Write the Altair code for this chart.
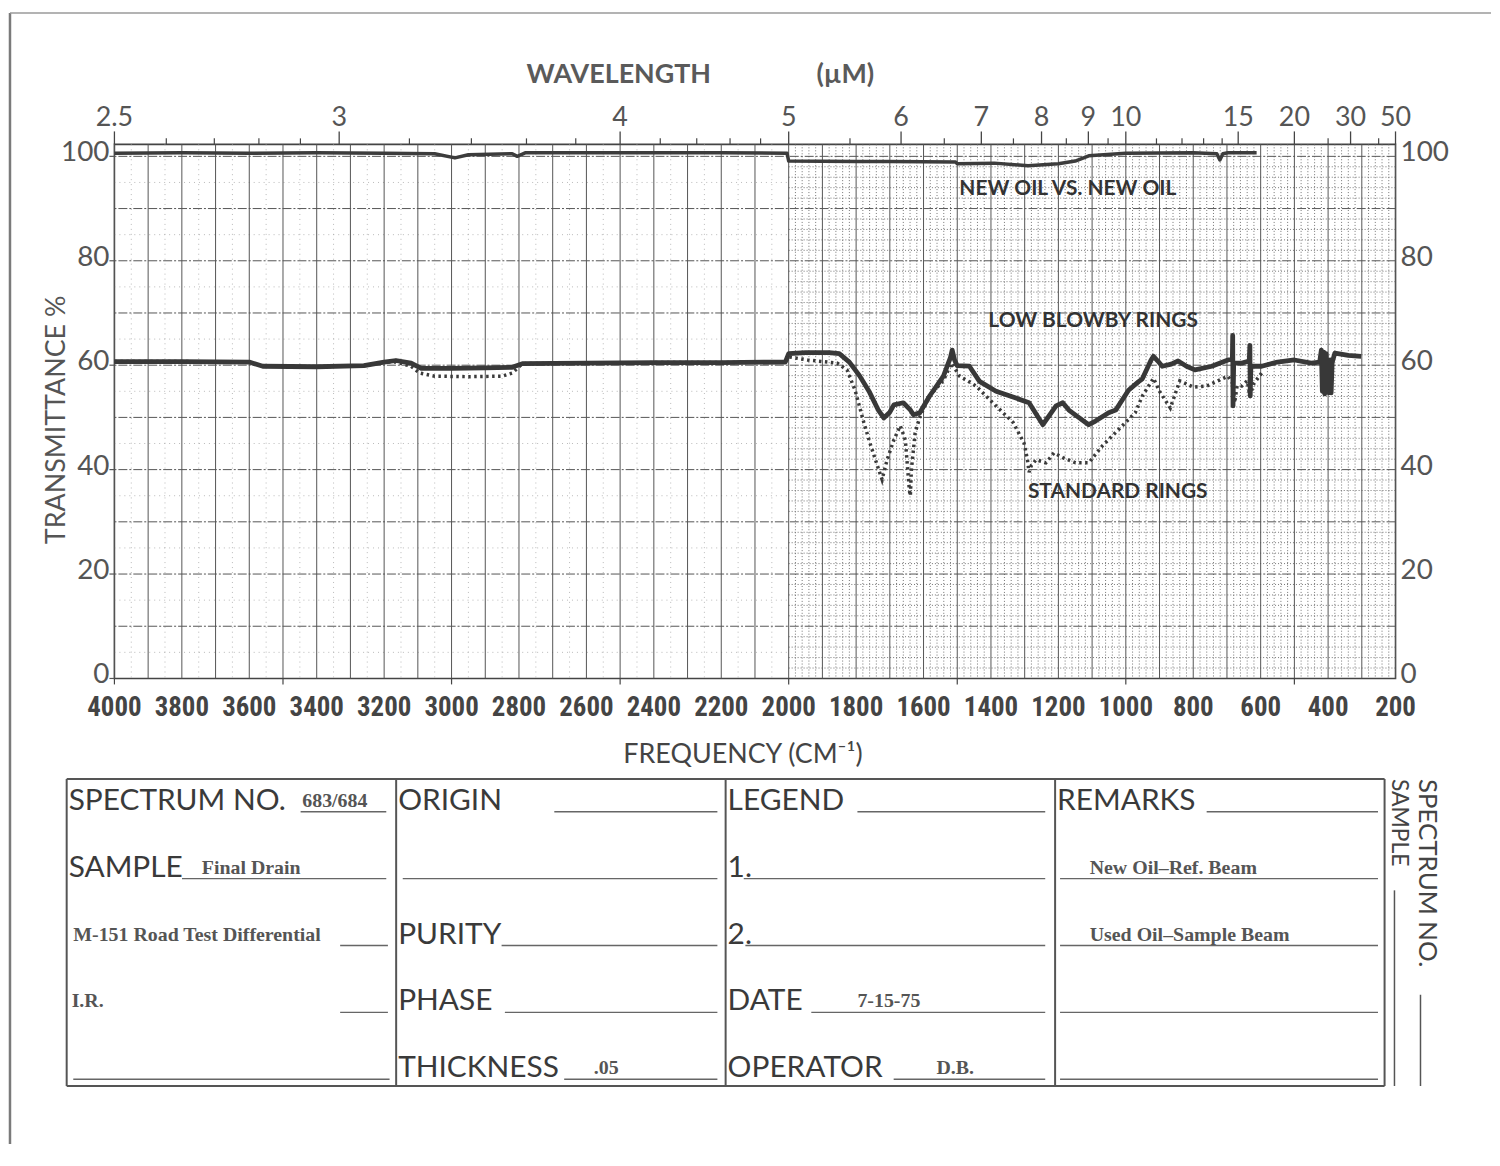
import altair as alt
import pandas as pd

# ---------------- spectrum data (frequency cm-1, transmittance %) ----------------
low_freq = [4000, 3800, 3600, 3560, 3400, 3260, 3200, 3165, 3120, 3090, 3000, 2900, 2820, 2790,
            2600, 2400, 2200, 2010, 2000, 1950, 1880, 1850, 1820, 1790, 1760, 1735, 1718, 1700,
            1688, 1660, 1640, 1630, 1611, 1582, 1541, 1520, 1515, 1508, 1500, 1464, 1434, 1385,
            1326, 1287, 1246, 1207, 1187, 1169, 1140, 1110, 1090, 1051, 1030, 992, 963, 951,
            925, 918, 905, 892, 865, 845, 820, 795, 745, 697, 684, 683, 682, 680, 656, 634, 632,
            631, 629, 597, 550, 500, 450, 425, 420, 417, 413, 410, 406, 402, 398, 394, 391, 388,
            380, 340, 302]
low_T = [60.7, 60.7, 60.6, 59.8, 59.7, 59.9, 60.6, 60.9, 60.4, 59.4, 59.4, 59.5, 59.6, 60.3,
         60.4, 60.5, 60.5, 60.6, 62.2, 62.4, 62.4, 62.2, 60.6, 58.0, 54.8, 51.5, 49.9, 51.0,
         52.4, 52.8, 51.5, 50.5, 50.9, 54.1, 57.9, 61.5, 62.9, 61.0, 59.9, 59.8, 56.9, 55.0,
         53.7, 52.8, 48.6, 52.2, 52.8, 51.4, 50.0, 48.6, 49.3, 50.9, 51.4, 55.2, 56.8, 57.4,
         61.0, 61.7, 60.8, 59.8, 60.2, 60.8, 59.8, 59.1, 59.8, 61.0, 61.2, 65.7, 52.2, 60.4,
         60.4, 60.8, 63.8, 54.1, 59.8, 59.8, 60.6, 61.0, 60.4, 60.6, 62.9, 55.0, 62.5, 54.5,
         62.2, 57.1, 54.7, 61.0, 54.7, 60.5, 62.3, 61.9, 61.7]

std_freq = [4000, 3800, 3600, 3560, 3400, 3260, 3200, 3165, 3120, 3095, 3050, 2950, 2850, 2820,
            2790, 2600, 2400, 2200, 2010, 2000, 1944, 1856, 1827, 1803, 1777, 1759, 1733, 1723,
            1708, 1688, 1669, 1654, 1642, 1639, 1636, 1625, 1610, 1582, 1541, 1517, 1493, 1444,
            1385, 1334, 1302, 1292, 1287, 1280, 1266, 1237, 1213, 1187, 1149, 1110, 1069, 1001,
            972, 951, 918, 900, 868, 840, 800, 760, 697, 683, 677, 670, 656, 640, 632, 620, 597]
std_T = [60.7, 60.7, 60.6, 59.8, 59.7, 59.9, 60.6, 60.6, 59.8, 58.5, 57.9, 57.8, 57.9, 58.5,
         60.3, 60.4, 60.5, 60.5, 60.6, 61.6, 61.0, 60.4, 59.1, 55.2, 49.0, 45.1, 40.0, 38.1,
         41.9, 45.7, 48.4, 45.7, 36.0, 35.0, 40.0, 47.0, 50.3, 54.1, 57.1, 60.4, 57.9, 56.0,
         52.2, 49.0, 45.1, 42.0, 39.5, 40.8, 41.9, 41.3, 43.2, 42.3, 41.3, 41.3, 44.6, 49.0,
         50.9, 54.1, 57.5, 55.0, 51.8, 57.0, 55.8, 56.0, 57.9, 56.5, 52.8, 56.0, 56.0, 57.0,
         54.1, 56.5, 58.5]

new_freq = [4000, 3800, 3600, 3400, 3200, 3050, 2990, 2950, 2820, 2805, 2780, 2400, 2200, 2005,
            2000, 1800, 1700, 1505, 1500, 1390, 1290, 1200, 1150, 1110, 1000, 800, 730, 721, 712,
            697, 612]
new_T = [100.6, 100.7, 100.6, 100.7, 100.6, 100.5, 99.7, 100.3, 100.5, 100.0, 100.7, 100.7, 100.7,
         100.6, 99.1, 99.0, 99.0, 98.9, 98.6, 98.7, 98.2, 98.6, 99.1, 100.1, 100.6, 100.7, 100.5,
         99.3, 100.5, 100.7, 100.7]

# curve labels
note_text = ["NEW OIL VS. NEW OIL", "LOW BLOWBY RINGS", "STANDARD RINGS"]
note_freq = [1172, 1097, 1024]
note_T = [93.7, 68.4, 35.8]

# axis values / labels
freq_ticks = list(range(4000, 199, -200))
freq_marks = [4000, 3500, 3000, 2500, 2000, 1500, 1000, 500]
trans_ticks = [0, 20, 40, 60, 80, 100]
x_title = "FREQUENCY (CM⁻¹)"
y_title = "TRANSMITTANCE  %"
wl_major = [2.5, 3, 4, 5, 6, 7, 8, 9, 10, 15, 20, 30, 50]
wl_major_lab = ["2.5", "3", "4", "5", "6", "7", "8", "9", "10", "15", "20", "30", "50"]
wl_minor = [2.6, 2.7, 2.8, 2.9, 3.2, 3.4, 3.6, 3.8, 4.2, 4.4, 4.6, 4.8, 5.5, 6.5, 7.5, 8.5,
            9.5, 11, 12, 13, 14, 25, 40]
top_title = ["WAVELENGTH", "(µM)"]
top_title_freq = [2504, 1832]

# chart-paper grid
grid_v_major = list(range(4000, 199, -100))
grid_v_minor_left = list(range(3950, 2000, -100))
grid_v_minor_right = [f for f in range(1980, 200, -20) if f % 100]
grid_h_major = list(range(10, 101, 10))
grid_h_minor_left = list(range(5, 100, 10))
grid_h_minor_right = [v for v in range(2, 101, 2) if v % 10]

# ---------------- form data ----------------
form_labels = ["SPECTRUM NO.", "SAMPLE", "ORIGIN", "PURITY", "PHASE", "THICKNESS",
               "LEGEND", "1.", "2.", "DATE", "OPERATOR", "REMARKS"]
form_label_col = [0, 0, 1, 1, 1, 1, 2, 2, 2, 2, 2, 3]
form_label_row = [0, 1, 0, 2, 3, 4, 0, 1, 2, 3, 4, 0]

form_entries = ["683/684", "Final Drain", "M-151 Road Test  Differential", "I.R.", ".05",
                "7-15-75", "D.B.", "New Oil–Ref. Beam", "Used Oil–Sample Beam"]
form_entry_col = [0, 0, 0, 0, 1, 2, 2, 3, 3]
form_entry_row = [0, 1, 2, 3, 4, 3, 4, 1, 2]
form_entry_off = [0.715, 0.41, 0.02, 0.015, 0.60, 0.40, 0.64, 0.105, 0.105]

ul_col = [0, 0, 0, 0, 0, 1, 1, 1, 1, 1, 2, 2, 2, 2, 2, 3, 3, 3, 3, 3]
ul_row = [0, 1, 2, 3, 4, 0, 1, 2, 3, 4, 0, 1, 2, 3, 4, 0, 1, 2, 3, 4]
ul_start = [0.71, 0.35, 0.83, 0.83, 0.02, 0.48, 0.02, 0.32, 0.33, 0.51,
            0.40, 0.055, 0.06, 0.26, 0.51, 0.46, 0.015, 0.015, 0.015, 0.015]
ul_end = [0.97, 0.97, 0.975, 0.975, 0.98, 0.975, 0.975, 0.975, 0.975, 0.975,
          0.97, 0.97, 0.97, 0.97, 0.97, 0.98, 0.98, 0.98, 0.98, 0.98]

side_text = ["SPECTRUM NO.", "SAMPLE"]
side_col = [4.130, 4.045]
side_size = [26, 23]
side_line_col = [4.109, 4.030]
side_line_from = [2.736, 1.175]

BOX_TOP, BOX_BOTTOM = -0.49, 4.1

# ---------------- styling ----------------
SANS = "Lato, 'Open Sans', sans-serif"
NARROW = "'Liberation Sans Narrow', 'Roboto Condensed', 'Liberation Sans', sans-serif"
SERIF = "'Liberation Serif', serif"
INK = "#444444"
GREY = "#555555"
W, H = 1288, 537

X = alt.Scale(domain=[4000, 200], nice=False, zero=False)
Y = alt.Scale(domain=[0, 102.3], nice=False, zero=False)


def fx(field="f"):
    return alt.X(f"{field}:Q", scale=X, axis=None)


def ty(field="t"):
    return alt.Y(f"{field}:Q", scale=Y, axis=None)


# grid layers
g_vmaj = alt.Chart(pd.DataFrame({"f": grid_v_major})).mark_rule(
    color="#555555", strokeWidth=1).encode(x=fx())
g_vminl = alt.Chart(pd.DataFrame({"f": grid_v_minor_left})).mark_rule(
    color="#a8a8a8", strokeWidth=0.8, strokeDash=[1, 4]).encode(x=fx())
g_vminr = alt.Chart(pd.DataFrame({"f": grid_v_minor_right})).mark_rule(
    color="#666666", strokeWidth=0.9, strokeDash=[1, 2]).encode(x=fx())
g_hmaj = alt.Chart(pd.DataFrame({"t": grid_h_major})).mark_rule(
    color="#555555", strokeWidth=1, strokeDash=[9, 2, 2, 2]).encode(y=ty())
g_hminl = alt.Chart(pd.DataFrame({"t": grid_h_minor_left, "a": 4000, "b": 2000})).mark_rule(
    color="#a8a8a8", strokeWidth=0.8, strokeDash=[1, 4]).encode(y=ty(), x=fx("a"), x2="b:Q")
g_hminr = alt.Chart(pd.DataFrame({"t": grid_h_minor_right, "a": 2000, "b": 200})).mark_rule(
    color="#666666", strokeWidth=0.9, strokeDash=[1, 2]).encode(y=ty(), x=fx("a"), x2="b:Q")
bottom_marks = alt.Chart(pd.DataFrame({"f": freq_marks})).mark_rule(
    color=INK, strokeWidth=1.2).encode(x=fx(), y=alt.value(H), y2=alt.value(H + 6))

# curves
std_line = alt.Chart(pd.DataFrame({"f": std_freq, "t": std_T})).mark_line(
    color="#3a3a3a", strokeWidth=3.5, strokeDash=[2.5, 3.5]).encode(x=fx(), y=ty())
low_line = alt.Chart(pd.DataFrame({"f": low_freq, "t": low_T})).mark_line(
    color="#383838", strokeWidth=4.8, strokeJoin="round").encode(x=fx(), y=ty())
new_line = alt.Chart(pd.DataFrame({"f": new_freq, "t": new_T})).mark_line(
    color="#3c3c3c", strokeWidth=3.5, strokeJoin="round").encode(x=fx(), y=ty())

notes = alt.Chart(pd.DataFrame({"f": note_freq, "t": note_T, "s": note_text})).mark_text(
    font=SANS, fontSize=21, fontWeight="bold", color="#333333", align="center",
    baseline="middle").encode(x=fx(), y=ty(), text="s:N")

# bottom frequency scale
bottom_labels = alt.Chart(pd.DataFrame({"f": freq_ticks,
                                        "lab": [str(v) for v in freq_ticks]})).mark_text(
    font=NARROW, fontSize=27, fontWeight="bold", color=INK, align="center",
    baseline="alphabetic").encode(x=fx(), y=alt.value(H + 38), text="lab:N")
x_title_mark = alt.Chart(pd.DataFrame({"s": [x_title]})).mark_text(
    font=SANS, fontSize=27, color=INK, align="center", baseline="alphabetic").encode(
    x=alt.value(632), y=alt.value(H + 85), text="s:N")

# left / right transmittance scale
left_labels = alt.Chart(pd.DataFrame({"f": 4000, "t": trans_ticks,
                                      "lab": [str(v) for v in trans_ticks]})).mark_text(
    font=SANS, fontSize=28, color=GREY, align="right", baseline="middle", dx=-5, dy=-3).encode(
    x=fx(), y=ty(), text="lab:N")
left_ticks = alt.Chart(pd.DataFrame({"t": trans_ticks})).mark_rule(
    color=GREY, strokeWidth=1.2).encode(x=alt.value(-5), x2=alt.value(0), y=ty())
right_labels = alt.Chart(pd.DataFrame({"f": 200, "t": trans_ticks,
                                       "lab": [str(v) for v in trans_ticks]})).mark_text(
    font=SANS, fontSize=28, color=GREY, align="left", baseline="middle", dx=5, dy=-3).encode(
    x=fx(), y=ty(), text="lab:N")
y_title_mark = alt.Chart(pd.DataFrame({"s": [y_title]})).mark_text(
    font=SANS, fontSize=27, color=GREY, align="center", baseline="middle", angle=270).encode(
    x=alt.value(-58), y=alt.value(277), text="s:N")

# top wavelength scale
top_major = alt.Chart(pd.DataFrame({"w": wl_major, "lab": wl_major_lab})).transform_calculate(
    f="10000 / datum.w")
top_tick_major = top_major.mark_rule(color=INK, strokeWidth=1.3).encode(
    x=fx(), y=alt.value(0), y2=alt.value(-13))
top_labels = top_major.mark_text(font=SANS, fontSize=27, color=GREY, align="center",
                                 baseline="alphabetic").encode(x=fx(), y=alt.value(-18), text="lab:N")
top_tick_minor = alt.Chart(pd.DataFrame({"w": wl_minor})).transform_calculate(
    f="10000 / datum.w").mark_rule(color=INK, strokeWidth=1.2).encode(
    x=fx(), y=alt.value(0), y2=alt.value(-6))
top_titles = alt.Chart(pd.DataFrame({"f": top_title_freq, "s": top_title})).mark_text(
    font=SANS, fontSize=27, fontWeight="bold", color="#5a5a5a", align="center",
    baseline="alphabetic").encode(x=fx(), y=alt.value(-62), text="s:N")

spectrum = alt.layer(
    g_vminl, g_vminr, g_hminl, g_hminr, g_vmaj, g_hmaj, bottom_marks,
    std_line, low_line, new_line, notes,
    bottom_labels, x_title_mark, left_labels, left_ticks, right_labels, y_title_mark,
    top_tick_major, top_tick_minor, top_labels, top_titles,
)

# ---------------- form (its own column / row scales) ----------------
COL_PX0, COL_W = -48.0, 331.25   # column 0 edge and column width, px from plot origin
ROW_PX0, ROW_H = 671.0, 67.25    # row-0 rule and row pitch, px from plot origin
FX = alt.Scale(domain=[(0 - COL_PX0) / COL_W, (W - COL_PX0) / COL_W], nice=False, zero=False)
FY = alt.Scale(domain=[(0 - ROW_PX0) / ROW_H, (H - ROW_PX0) / ROW_H], nice=False, zero=False,
               reverse=True)


def cx(field="c"):
    return alt.X(f"{field}:Q", scale=FX, axis=None)


def ry(field="r"):
    return alt.Y(f"{field}:Q", scale=FY, axis=None)


box_v = alt.Chart(pd.DataFrame({"c": [0, 1, 2, 3, 4], "r": BOX_TOP, "r2": BOX_BOTTOM})).mark_rule(
    color=GREY, strokeWidth=2).encode(x=cx(), y=ry(), y2="r2:Q")
box_h = alt.Chart(pd.DataFrame({"r": [BOX_TOP, BOX_BOTTOM], "c": 0, "c2": 4})).mark_rule(
    color=GREY, strokeWidth=2).encode(y=ry(), x=cx(), x2="c2:Q")

ul_df = pd.DataFrame({"c": [c + s for c, s in zip(ul_col, ul_start)],
                      "c2": [c + e for c, e in zip(ul_col, ul_end)], "r": ul_row})
underlines = alt.Chart(ul_df).mark_rule(color="#666666", strokeWidth=1.4).encode(
    x=cx(), x2="c2:Q", y=ry())

lab_df = pd.DataFrame({"c": [c + 0.006 for c in form_label_col], "r": form_label_row,
                       "s": form_labels})
labels = alt.Chart(lab_df).mark_text(font=SANS, fontSize=30, color="#3a3a3a", align="left",
                                     baseline="alphabetic", dy=-2).encode(x=cx(), y=ry(), text="s:N")

ent_df = pd.DataFrame({"c": [c + o for c, o in zip(form_entry_col, form_entry_off)],
                       "r": form_entry_row, "s": form_entries})
entries = alt.Chart(ent_df).mark_text(font=SERIF, fontSize=20, fontWeight="bold", color="#555555",
                                      align="left", baseline="alphabetic", dy=-5).encode(
    x=cx(), y=ry(), text="s:N")

side_df = pd.DataFrame({"c": side_col, "r": BOX_TOP, "s": side_text, "z": side_size})
side_labels = alt.Chart(side_df).mark_text(font=SANS, color=INK, angle=90, align="left",
                                           baseline="middle").encode(
    x=cx(), y=ry(), text="s:N", size=alt.Size("z:Q", scale=None, legend=None))
side_lines = alt.Chart(pd.DataFrame({"c": side_line_col, "r": side_line_from,
                                     "r2": BOX_BOTTOM})).mark_rule(
    color=GREY, strokeWidth=1.5).encode(x=cx(), y=ry(), y2="r2:Q")

# page frame
frame_left = alt.Chart(pd.DataFrame({"k": [0]})).mark_rule(color="#7a7a7a", strokeWidth=2.5).encode(
    x=alt.value(-105), y=alt.value(-132), y2=alt.value(1005))
frame_top = alt.Chart(pd.DataFrame({"k": [0]})).mark_rule(color="#9a9a9a", strokeWidth=1.5).encode(
    x=alt.value(-105), x2=alt.value(1384), y=alt.value(-132))

form = alt.layer(box_v, box_h, underlines, labels, entries, side_labels, side_lines,
                 frame_left, frame_top)

chart = alt.layer(spectrum, form).resolve_scale(x="independent", y="independent").properties(
    width=W, height=H, padding=0, background="white"
).configure_view(stroke="#444444", strokeWidth=1.6)

chart.save("out.html", embed_options={"renderer": "svg", "actions": False})
